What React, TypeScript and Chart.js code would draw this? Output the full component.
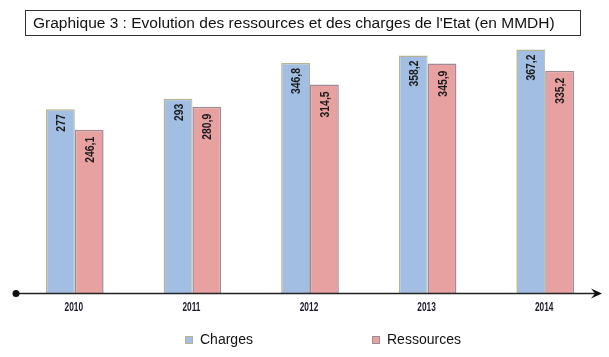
import React, { useEffect, useRef } from "react";
import { Chart, registerables } from "chart.js";

Chart.register(...registerables);

const TITLE = "Graphique 3 : Evolution des ressources et des charges de l'Etat (en MMDH)";
const YEARS = ["2010", "2011", "2012", "2013", "2014"];
const CHARGES = [277, 293, 346.8, 358.2, 367.2];
const RESSOURCES = [246.1, 280.9, 314.5, 345.9, 335.2];
const SERIES_NAMES = ["Charges", "Ressources"];

const ARIAL = "'Liberation Sans', Arial, sans-serif";

const fmt = (v: number) => String(v).replace(".", ",");

const titlePlugin = {
  id: "titleBox",
  afterDraw(chart: any) {
    const ctx = chart.ctx;
    ctx.save();
    ctx.strokeStyle = "#333";
    ctx.lineWidth = 1;
    ctx.strokeRect(25.5, 10.5, 555, 25);
    ctx.fillStyle = "#111";
    ctx.font = `15.5px ${ARIAL}`;
    ctx.textBaseline = "alphabetic";
    ctx.textAlign = "left";
    ctx.fillText(TITLE, 33, 28);
    ctx.restore();
  },
};

const axisPlugin = {
  id: "arrowAxis",
  afterDatasetsDraw(chart: any) {
    const ctx = chart.ctx;
    const { left, right, bottom } = chart.chartArea;
    const y = bottom + 0.5;
    const tip = right - 2;
    ctx.save();
    ctx.strokeStyle = "#222";
    ctx.fillStyle = "#111";
    ctx.lineWidth = 1.3;
    ctx.beginPath();
    ctx.moveTo(left, y);
    ctx.lineTo(tip - 4, y);
    ctx.stroke();
    ctx.beginPath();
    ctx.arc(left, y, 3.5, 0, Math.PI * 2);
    ctx.fill();
    ctx.beginPath();
    ctx.moveTo(tip, y);
    ctx.lineTo(tip - 11, y - 5);
    ctx.lineTo(tip - 7, y);
    ctx.lineTo(tip - 11, y + 5);
    ctx.closePath();
    ctx.fill();
    // category labels, narrow
    const xs = chart.scales.x;
    chart.data.labels.forEach((lab: string, i: number) => {
      const px = xs.getPixelForValue(i);
      ctx.save();
      ctx.translate(px - 1, bottom + 18);
      ctx.scale(0.64, 1);
      ctx.font = `bold 13px ${ARIAL}`;
      ctx.fillStyle = "#1a1a2a";
      ctx.textAlign = "center";
      ctx.textBaseline = "alphabetic";
      ctx.fillText(lab, 0, 0);
      ctx.restore();
    });
    ctx.restore();
  },
};

const labelPlugin = {
  id: "barLabels",
  afterDatasetsDraw(chart: any) {
    const ctx = chart.ctx;
    const offsets = [5, 7];
    chart.data.datasets.forEach((ds: any, di: number) => {
      const meta = chart.getDatasetMeta(di);
      meta.data.forEach((el: any, i: number) => {
        ctx.save();
        ctx.translate(el.x + 1, el.y + offsets[di]);
        ctx.rotate(-Math.PI / 2);
        ctx.scale(0.8, 1);
        ctx.font = `bold 13px ${ARIAL}`;
        ctx.fillStyle = "#1a1a1a";
        ctx.textAlign = "right";
        ctx.textBaseline = "middle";
        ctx.fillText(fmt(ds.data[i]), 0, 0);
        ctx.restore();
      });
    });
  },
};

const legendPlugin = {
  id: "customLegend",
  afterDraw(chart: any) {
    const ctx = chart.ctx;
    const xs = [185, 372];
    const yc = 340;
    ctx.save();
    chart.data.datasets.forEach((ds: any, di: number) => {
      const x = xs[di];
      ctx.fillStyle = ds.backgroundColor;
      ctx.fillRect(x, yc - 4, 8, 8);
      ctx.strokeStyle = ds.borderColor;
      ctx.lineWidth = 1;
      ctx.strokeRect(x + 0.5, yc - 3.5, 7, 7);
      ctx.fillStyle = "#111";
      ctx.font = `14px ${ARIAL}`;
      ctx.textAlign = "left";
      ctx.textBaseline = "middle";
      ctx.fillText(ds.label, x + 15, yc);
    });
    ctx.restore();
  },
};

export default function App() {
  const ref = useRef<HTMLCanvasElement | null>(null);

  useEffect(() => {
    if (!ref.current) return;
    const chart = new Chart(ref.current, {
      type: "bar",
      data: {
        labels: YEARS,
        datasets: [
          {
            label: SERIES_NAMES[0],
            data: CHARGES,
            backgroundColor: "#A2BFE3",
            borderColor: "#B7B290",
            borderWidth: { top: 1.5, left: 1.5, right: 1, bottom: 0 },
          },
          {
            label: SERIES_NAMES[1],
            data: RESSOURCES,
            backgroundColor: "#E6A1A0",
            borderColor: "#A08A96",
            borderWidth: { top: 1.5, left: 1.5, right: 1.5, bottom: 0 },
          },
        ],
      },
      options: {
        responsive: false,
        animation: false,
        layout: { padding: { left: 16, right: 5, top: 41, bottom: 0 } },
        plugins: {
          legend: { display: false },
          tooltip: { enabled: false },
          title: { display: false },
        },
        datasets: {
          bar: { categoryPercentage: 0.49, barPercentage: 1.0 },
        },
        scales: {
          x: {
            grid: { display: false },
            border: { display: false },
            ticks: { display: false },
            afterFit: (scale: any) => {
              scale.height = 64;
            },
          },
          y: {
            display: false,
            min: 0,
            max: 380,
          },
        },
      },
      plugins: [titlePlugin, axisPlugin, labelPlugin, legendPlugin],
    } as any);
    return () => chart.destroy();
  }, []);

  return (
    <div style={{ position: "fixed", left: 0, top: 0, width: 609, height: 357, background: "#fff" }}>
      <canvas ref={ref} width={609} height={357} style={{ display: "block" }} />
    </div>
  );
}
